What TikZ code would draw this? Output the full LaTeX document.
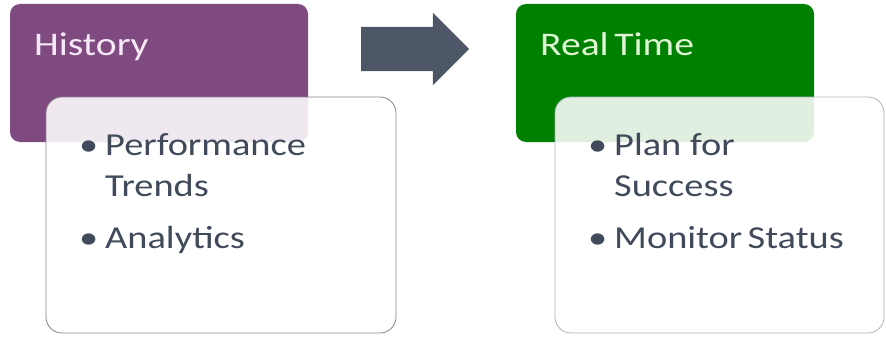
\documentclass[tikz,border=0pt]{standalone}
\usepackage{fontspec}
\setmainfont{Carlito}[FakeStretch=1.2]
\usepackage{tikz}
\usetikzlibrary{shapes.arrows}
\definecolor{histpurple}{RGB}{126,74,128}
\definecolor{rtgreen}{RGB}{0,128,0}
\definecolor{arrowgray}{RGB}{76,86,102}
\definecolor{bodyink}{RGB}{64,74,90}
\definecolor{histedge}{RGB}{142,126,144}
\definecolor{rtedge}{RGB}{168,180,190}
\definecolor{histlight}{RGB}{246,232,246}
\definecolor{rtlight}{RGB}{222,246,212}
\newcommand{\bul}{\makebox[26pt][l]{\textbullet}}

\begin{document}
\begin{tikzpicture}[x=1pt,y=-1pt,
    headbox/.style={rectangle,rounded corners=10pt,minimum width=298pt,minimum height=138pt,inner sep=0pt},
    bodybox/.style={rectangle,rounded corners=16pt,fill=white,fill opacity=0.88,line width=0.8pt,minimum height=236pt,inner sep=0pt},
    headtext/.style={anchor=base west,inner sep=0pt,font=\fontsize{33}{40}\selectfont},
    bodytext/.style={anchor=base west,inner sep=0pt,text=bodyink,font=\fontsize{32}{41}\selectfont}]
      \useasboundingbox (0,0) rectangle (886,337);
      % history side
      \node[headbox,fill=histpurple] (hist) at (159,73) {};
      \node[bodybox,draw=histedge,minimum width=350pt] (histbody) at (221,215) {};
      \node[headtext,text=histlight] (histlabel) at (34,56) {History};
      \node[bodytext] (histlist) at (79,155) {\begin{tabular}[t]{@{}l@{}}
            \bul Performance\\ \hspace{26pt}Trends\\[11pt] \bul Analytics\end{tabular}};
      % arrow
      \node[single arrow,fill=arrowgray,inner sep=0pt,minimum height=108pt,
            single arrow head extend=14pt,single arrow tip angle=90] (step) at (404,49) {\rule{0pt}{44pt}};
      % real time side
      \node[headbox,fill=rtgreen] (rt) at (665,73) {};
      \node[bodybox,draw=rtedge,minimum width=329pt] (rtbody) at (719.5,215) {};
      \node[headtext,text=rtlight] (rtlabel) at (540,56) {Real\,Time};
      \node[bodytext] (rtlist) at (588,155) {\begin{tabular}[t]{@{}l@{}}
            \bul Plan for\\ \hspace{26pt}Success\\[11pt] \bul Monitor\,Status\end{tabular}};
    \end{tikzpicture}
\end{document}
